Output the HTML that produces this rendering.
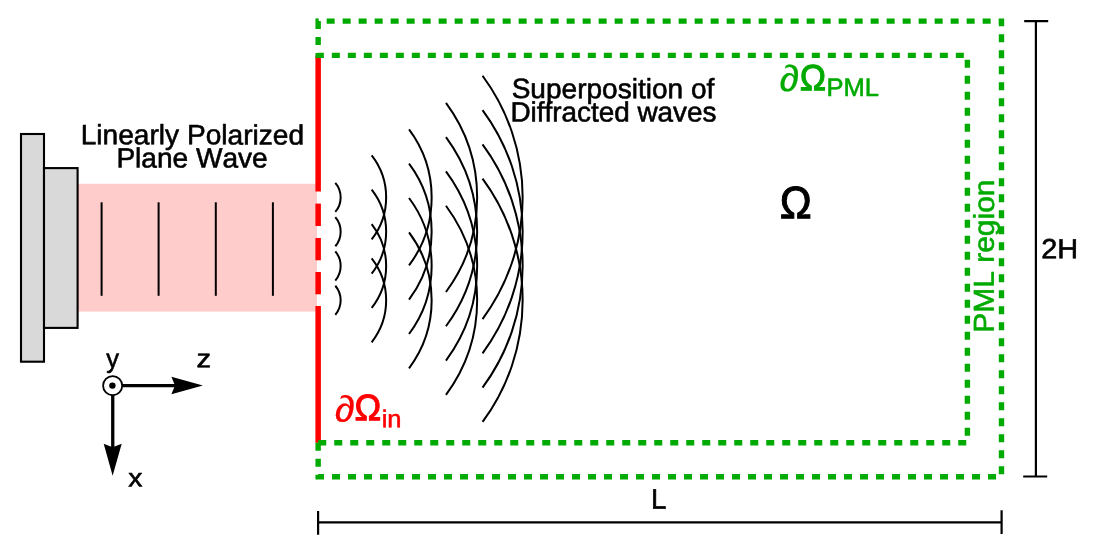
<!DOCTYPE html>
<html><head><meta charset="utf-8"><title>Diffraction setup</title>
<style>
html,body{margin:0;padding:0;background:#fff;}
svg{display:block;}
text{font-family:"Liberation Sans",sans-serif;font-kerning:none;}
</style></head><body>
<svg width="1102" height="556" viewBox="0 0 1102 556">
<rect width="1102" height="556" fill="#fff"/>
<!-- source -->
<rect x="78" y="183.8" width="239" height="127.8" fill="#ffcccc"/>
<rect x="21" y="134" width="23" height="227.7" fill="#d9d9d9" stroke="#000" stroke-width="2.1"/>
<rect x="44" y="168.1" width="33.6" height="159.8" fill="#d9d9d9" stroke="#000" stroke-width="2.1"/>
<g stroke="#000" stroke-width="2">
<line x1="101.6" y1="202.3" x2="101.6" y2="295.8"/>
<line x1="158.6" y1="202.3" x2="158.6" y2="295.8"/>
<line x1="215.8" y1="202.3" x2="215.8" y2="295.8"/>
<line x1="272.9" y1="202.3" x2="272.9" y2="295.8"/>
</g>
<!-- red input boundary -->
<g stroke="#ff0000" stroke-width="5.5">
<line x1="318.15" y1="55.4" x2="318.15" y2="191.5"/>
<line x1="318.15" y1="203.6" x2="318.15" y2="226.0"/>
<line x1="318.15" y1="238.0" x2="318.15" y2="260.3"/>
<line x1="318.15" y1="272.0" x2="318.15" y2="294.3"/>
<line x1="318.15" y1="306.0" x2="318.15" y2="442.7"/>
</g>
<!-- PML dashed -->
<g fill="none" stroke="#00aa00" stroke-width="5.4" stroke-dasharray="8 8" stroke-linejoin="miter">
<path d="M318.15,21.1 V55.4 H967.4 V442.7 H318.15"/>
<path d="M318.15,442.7 V476.8 H1001.5 V21.1 H318.15"/>
</g>
<rect x="315.45" y="18.4" width="2.9" height="2.8" fill="#00aa00"/>
<!-- waves -->
<g fill="none" stroke="#000" stroke-width="2">
<path d="M335.31,182.85 A22.5,22.5 0 0 1 335.31,211.95"/>
<path d="M335.31,217.15 A22.5,22.5 0 0 1 335.31,246.25"/>
<path d="M335.31,251.45 A22.5,22.5 0 0 1 335.31,280.55"/>
<path d="M335.31,285.75 A22.5,22.5 0 0 1 335.31,314.85"/>
<path d="M371.66,155.44 A68,68 0 0 1 371.66,239.36"/>
<path d="M371.66,189.74 A68,68 0 0 1 371.66,273.66"/>
<path d="M371.66,224.04 A68,68 0 0 1 371.66,307.96"/>
<path d="M371.66,258.34 A68,68 0 0 1 371.66,342.26"/>
<path d="M409.03,129.41 A113.5,113.5 0 0 1 409.03,265.39"/>
<path d="M409.03,163.71 A113.5,113.5 0 0 1 409.03,299.69"/>
<path d="M409.03,198.01 A113.5,113.5 0 0 1 409.03,333.99"/>
<path d="M409.03,232.31 A113.5,113.5 0 0 1 409.03,368.29"/>
<path d="M445.96,102.82 A159,159 0 0 1 445.96,291.98"/>
<path d="M445.96,137.12 A159,159 0 0 1 445.96,326.28"/>
<path d="M445.96,171.42 A159,159 0 0 1 445.96,360.58"/>
<path d="M445.96,205.72 A159,159 0 0 1 445.96,394.88"/>
<path d="M482.54,75.76 A204.5,204.5 0 0 1 482.54,319.04"/>
<path d="M482.54,110.06 A204.5,204.5 0 0 1 482.54,353.34"/>
<path d="M482.54,144.36 A204.5,204.5 0 0 1 482.54,387.64"/>
<path d="M482.54,178.66 A204.5,204.5 0 0 1 482.54,421.94"/>
</g>
<!-- dimensions -->
<g stroke="#000" stroke-width="2.2" fill="none">
<path d="M1035.9,21.2 V476.5 M1024.2,21.2 H1048.2 M1023.2,476.5 H1047.2"/>
<path d="M318.1,522.3 H1001.6 M318.1,511.1 V534.8 M1001.6,510.3 V534"/>
</g>
<!-- axes -->
<g stroke="#000" fill="none">
<line x1="122" y1="385.55" x2="176" y2="385.55" stroke-width="3.3"/>
<line x1="112.75" y1="395" x2="112.75" y2="448" stroke-width="3.3"/>
<circle cx="112.65" cy="385.7" r="9.55" stroke-width="1.8" fill="#fff"/>
</g>
<circle cx="112.4" cy="385.6" r="3.2" fill="#000"/>
<path d="M202.9,385.5 L171.4,376.7 L175,385.5 L171.4,394.2 Z" fill="#000"/>
<path d="M112.65,475.8 L103.7,443.7 L112.65,447.3 L121.7,443.7 Z" fill="#000"/>
<!-- text -->
<text id="t1" transform="translate(80.69,144.25) rotate(0.05) scale(1.0036,1.0000)" font-size="28.00" fill="#000" stroke="#000" stroke-width="0.6" stroke-linejoin="round">Linearly Polarized</text>
<text id="t2" transform="translate(116.41,167.45) rotate(0.05) scale(1.0025,1.0000)" font-size="28.00" fill="#000" stroke="#000" stroke-width="0.6" stroke-linejoin="round">Plane Wave</text>
<text id="t3" transform="translate(511.65,98.10) rotate(0.05) scale(1.0016,1.0000)" font-size="28.00" fill="#000" stroke="#000" stroke-width="0.6" stroke-linejoin="round">Superposition of</text>
<text id="t4" transform="translate(510.46,121.40) rotate(0.05) scale(0.9955,1.0000)" font-size="28.00" fill="#000" stroke="#000" stroke-width="0.6" stroke-linejoin="round">Diffracted waves</text>
<text id="t2h" transform="translate(1041.29,258.35) rotate(0.05) scale(1.0322,0.9914)" font-size="28.00" fill="#000" stroke="#000" stroke-width="0.6" stroke-linejoin="round">2H</text>
<text id="tL" transform="translate(651.11,508.70) rotate(0.05) scale(0.9925,1.0153)" font-size="28.00" fill="#000" stroke="#000" stroke-width="0.6" stroke-linejoin="round">L</text>
<text id="ty" transform="translate(106.28,367.57) rotate(0.05) scale(0.9079,0.9411)" font-size="28.00" fill="#000" stroke="#000" stroke-width="0.6" stroke-linejoin="round">y</text>
<text id="tz" transform="translate(196.56,367.34) rotate(0.05) scale(1.0438,0.9172)" font-size="28.00" fill="#000" stroke="#000" stroke-width="0.6" stroke-linejoin="round">z</text>
<text id="tx" transform="translate(128.25,486.53) rotate(0.05) scale(1.0115,0.9151)" font-size="28.00" fill="#000" stroke="#000" stroke-width="0.6" stroke-linejoin="round">x</text>
<text id="bigO" transform="translate(779.85,218.36) rotate(0.05) scale(0.9513,1.0105)" font-size="45.00" fill="#000" stroke="#000" stroke-width="1.0" stroke-linejoin="miter">Ω</text>
<text id="dP" transform="translate(779.61,91.12) rotate(0.05) scale(1.1029,1.0176)" font-size="36.00" fill="#00aa00" stroke="#00aa00" stroke-width="0.2" stroke-linejoin="round">∂</text>
<text id="oP" transform="translate(799.74,90.20) rotate(0.05) scale(0.9787,1.0108)" font-size="36.00" fill="#00aa00" stroke="#00aa00" stroke-width="1.0" stroke-linejoin="miter">Ω</text>
<text id="tpml" transform="translate(826.43,96.07) rotate(0.05) scale(0.9823,0.9786)" font-size="26.00" fill="#00aa00" stroke="#00aa00" stroke-width="0.6" stroke-linejoin="round">PML</text>
<text id="dI" transform="translate(334.66,421.43) rotate(0.05) scale(1.1254,1.0177)" font-size="36.00" fill="#ff0000" stroke="#ff0000" stroke-width="0.2" stroke-linejoin="round">∂</text>
<text id="oI" transform="translate(354.44,420.29) rotate(0.05) scale(0.9936,1.0219)" font-size="36.00" fill="#ff0000" stroke="#ff0000" stroke-width="1.0" stroke-linejoin="miter">Ω</text>
<text id="tin" transform="translate(381.63,427.14) rotate(0.05) scale(0.9813,0.9396)" font-size="26.00" fill="#ff0000" stroke="#ff0000" stroke-width="0.6" stroke-linejoin="round">in</text>
<text id="tpmlr" transform="translate(993.8,332.8) rotate(-89.95) scale(1.0,0.96)" font-size="30" fill="#00aa00" stroke="#00aa00" stroke-width="0.6" stroke-linejoin="round">PML region</text>
</svg>
</body></html>
